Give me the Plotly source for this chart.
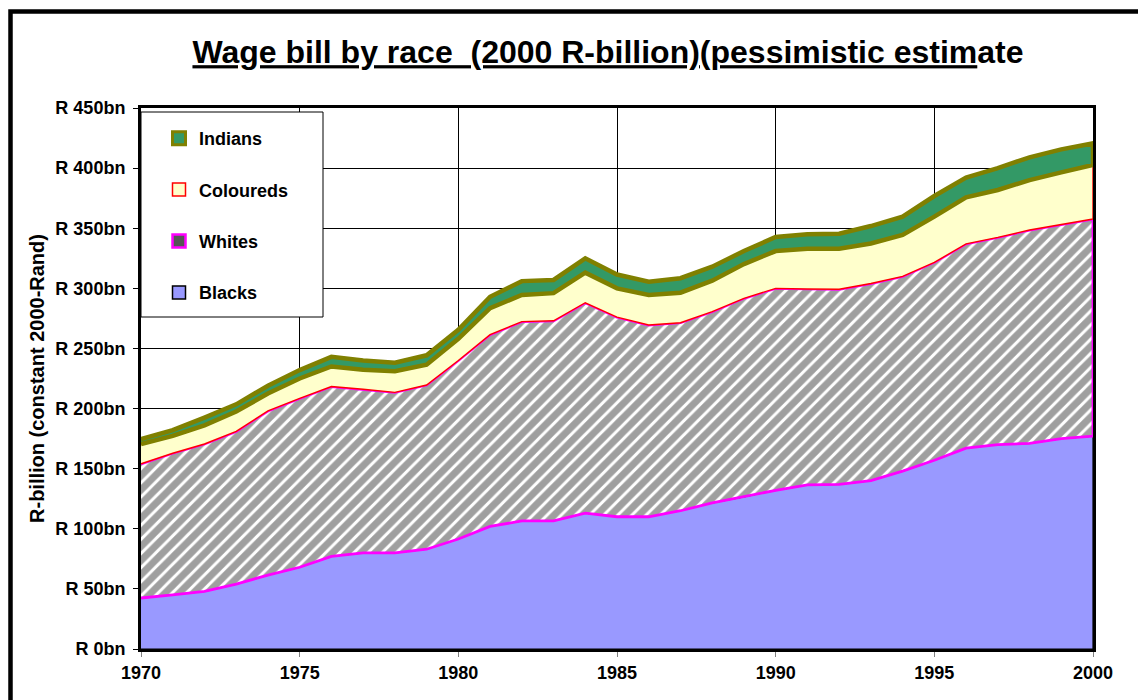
import numpy as np
import plotly.graph_objects as go

# Wage bill by race, constant 2000 Rand (billions), pessimistic estimate
years = list(range(1970, 2001))
blacks = [42.4, 45.0, 48.0, 54.0, 61.5, 68.0, 77.0, 80.0, 80.0, 83.0, 91.5,
          102.0, 106.5, 106.5, 113.0, 110.0, 110.0, 115.0, 121.5, 126.5, 132.0,
          136.5, 137.0, 140.0, 148.0, 157.0, 167.0, 170.0, 171.0, 175.0, 177.0]
whites = [111.6, 117.8, 122.5, 127.0, 136.5, 140.5, 141.3, 136.0, 133.5, 136.6, 148.5,
          159.5, 165.8, 166.5, 175.0, 166.0, 159.5, 156.4, 159.1, 165.2, 168.0,
          163.0, 162.2, 164.0, 162.0, 164.6, 170.0, 172.4, 177.5, 178.0, 180.7]
coloureds = [16.5, 14.5, 15.5, 16.5, 14.5, 16.5, 16.7, 16.3, 17.5, 16.9, 18.0,
             22.0, 22.2, 23.0, 25.0, 24.0, 25.0, 25.0, 25.8, 28.5, 31.0,
             33.5, 33.8, 33.3, 34.4, 38.0, 38.7, 39.4, 41.5, 43.5, 44.9]
indians = [4.0, 4.7, 6.5, 6.0, 6.5, 7.0, 8.0, 7.7, 7.2, 7.8, 7.5,
           9.5, 11.5, 11.0, 12.0, 11.5, 11.0, 12.0, 11.6, 10.8, 11.7,
           12.0, 12.5, 14.5, 15.2, 17.2, 16.5, 18.2, 19.0, 19.1, 18.0]

y_ticks = list(range(0, 451, 50))
y_labels = [f"R {v}bn" for v in y_ticks]
x_ticks = list(range(1970, 2001, 5))

FONT = "Liberation Sans, Arial, sans-serif"

series = [
    # name, values, fill, border colour, border width, pattern
    ("Blacks", blacks, "#9999FF", "#000000", 1.2, None),
    ("Whites", whites, "#FFFFFF", "#FF00FF", 2.8, dict(shape="/", fgcolor="#3f3f3f",
                                                      bgcolor="#FFFFFF", size=10, solidity=0.7)),
    ("Coloureds", coloureds, "#FFFFCC", "#FF0000", 1.4, None),
    ("Indians", indians, "#339966", "#808000", 4.5, None),
]

fig = go.Figure()

# each band is a closed polygon so its border runs along both edges, like a stacked area
base = np.zeros(len(years))
x_poly = years + years[::-1]
for name, vals, fill, edge, width, pattern in series:
    top = base + np.array(vals)
    y_poly = list(top) + list(base[::-1])
    kw = dict(fillpattern=pattern) if pattern else {}
    fig.add_trace(go.Scatter(
        x=x_poly, y=y_poly, mode="lines", fill="toself", fillcolor=fill,
        line=dict(color=edge, width=width), name=name, showlegend=False,
        hoverinfo="skip", **kw))
    base = top

# legend swatches (square markers), listed top-down
swatches = {
    "Indians": ("#339966", "#808000", 3),
    "Coloureds": ("#FFFFCC", "#FF0000", 1.5),
    "Whites": ("#555555", "#FF00FF", 2.5),
    "Blacks": ("#9999FF", "#000000", 1.5),
}
for name, (fill, edge, lw) in swatches.items():
    fig.add_trace(go.Scatter(
        x=[None], y=[None], mode="markers", name=name, legendgroup=name,
        marker=dict(symbol="square", size=13, color=fill, line=dict(color=edge, width=lw))))

L, R, T, B = 141, 45, 108, 51
W, H = 1138, 700
pw, ph = W - L - R, H - T - B


def px(x):
    return (x - L) / pw


def py(y):
    return (H - B - y) / ph


fig.update_layout(
    width=W, height=H,
    margin=dict(l=L, r=R, t=T, b=B),
    paper_bgcolor="white", plot_bgcolor="white",
    font=dict(family=FONT, color="black"),
    title=dict(
        text="<u>Wage bill by race\u00a0\u00a0(2000 R-billion)(pessimistic estim</u>ate",
        x=608 / W, xanchor="center", y=1 - 52 / H, yanchor="middle",
        font=dict(size=32, family=FONT, weight="bold", color="black")),
    legend=dict(
        x=px(159), xanchor="left", y=py(120), yanchor="top",
        bgcolor="rgba(0,0,0,0)", borderwidth=0, traceorder="grouped",
        tracegroupgap=25, font=dict(size=18, family=FONT, weight="bold")),
    shapes=[
        # legend box
        dict(type="rect", xref="paper", yref="paper", layer="above",
             x0=px(141), x1=px(323), y0=py(317), y1=py(112),
             fillcolor="white", line=dict(color="black", width=1)),
        # outer chart frame
        dict(type="rect", xref="paper", yref="paper", layer="below",
             x0=px(10.5), x1=px(1150), y0=py(715), y1=py(11.5),
             line=dict(color="black", width=4.5)),
    ],
)

fig.update_xaxes(
    range=[1970, 2000], tickvals=x_ticks, showgrid=True, gridcolor="#000000", gridwidth=1,
    showline=True, linecolor="black", linewidth=3, mirror=True,
    ticks="outside", ticklen=5, tickcolor="#808080",
    tickfont=dict(size=18, family=FONT, weight="bold"), zeroline=False)
fig.update_yaxes(
    range=[0, 450], tickvals=y_ticks, ticktext=y_labels,
    showgrid=True, gridcolor="#000000", gridwidth=1,
    showline=True, linecolor="black", linewidth=3, mirror=True,
    ticks="outside", ticklen=5, tickcolor="#000000", ticklabelstandoff=4,
    tickfont=dict(size=18, family=FONT, weight="bold"), zeroline=False,
    title=dict(text="R-billion (constant 2000-Rand)", standoff=6,
               font=dict(size=20, family=FONT, weight="bold")))

fig.write_html("out.html")
